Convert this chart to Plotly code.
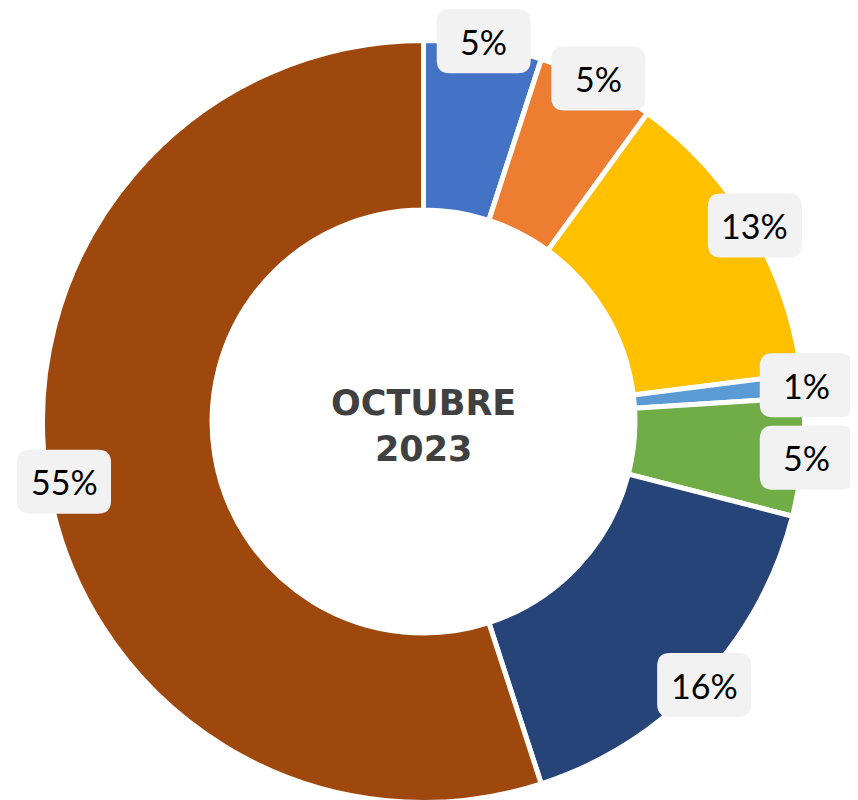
import math
import plotly.graph_objects as go

categories = ["A", "B", "C", "D", "E", "F", "G"]
values = [5, 5, 13, 1, 5, 16, 55]
colors = ["#4472C4", "#ED7D31", "#FFC000", "#5B9BD5", "#70AD47", "#264478", "#9E480E"]
center_text = "OCTUBRE<br>2023"

W, H = 858, 800
OFF = 8  # default page body margin
cx, cy, R = 423.5 - OFF, 421.5 - OFF, 381
hole = 0.555
label_r = 385
box_w, box_h, rad = 94, 64, 13
min_left = 17 - OFF

fig = go.Figure(go.Pie(
    labels=categories, values=values, sort=False, direction="clockwise",
    rotation=0, hole=hole, textinfo="none", hoverinfo="label+percent",
    marker=dict(colors=colors, line=dict(color="white", width=5)),
    domain=dict(x=[(cx - R) / W, (cx + R) / W], y=[1 - (cy + R) / H, 1 - (cy - R) / H]),
    showlegend=False,
))

def px2paper(x, y):
    return x / W, 1 - y / H

def P(x, y):
    a, b = px2paper(x, y)
    return f"{a:.5f},{b:.5f}"

total = sum(values)
cum = 0
shapes = []
annotations = []
for v in values:
    mid = (cum + v / 2) / total * 2 * math.pi
    cum += v
    lx = cx + label_r * math.sin(mid)
    ly = cy - label_r * math.cos(mid)
    lx = max(lx, min_left + box_w / 2)
    x0, x1 = lx - box_w / 2, lx + box_w / 2
    y0, y1 = ly - box_h / 2, ly + box_h / 2
    path = (f"M {P(x0 + rad, y0)} L {P(x1 - rad, y0)} Q {P(x1, y0)} {P(x1, y0 + rad)} "
            f"L {P(x1, y1 - rad)} Q {P(x1, y1)} {P(x1 - rad, y1)} "
            f"L {P(x0 + rad, y1)} Q {P(x0, y1)} {P(x0, y1 - rad)} "
            f"L {P(x0, y0 + rad)} Q {P(x0, y0)} {P(x0 + rad, y0)} Z")
    shapes.append(dict(type="path", path=path, xref="paper", yref="paper",
                       fillcolor="#F2F2F2", line=dict(width=0), layer="above"))
    ax, ay = px2paper(lx, ly)
    annotations.append(dict(x=ax, y=ay, xref="paper", yref="paper",
                            text=f"{round(v / total * 100)}%", showarrow=False,
                            font=dict(family="Lato", size=34, color="#000000"),
                            xanchor="center", yanchor="middle"))

tx, ty = px2paper(cx, cy + 4)
annotations.append(dict(x=tx, y=ty, xref="paper", yref="paper", text=f"<b>{center_text}</b>",
                        showarrow=False, font=dict(family="DejaVu Sans", size=35, color="#404040"),
                        xanchor="center", yanchor="middle"))

fig.update_layout(width=W, height=H, margin=dict(l=0, r=0, t=0, b=0),
                  paper_bgcolor="white", plot_bgcolor="white",
                  shapes=shapes, annotations=annotations)
fig.write_html("out.html")
